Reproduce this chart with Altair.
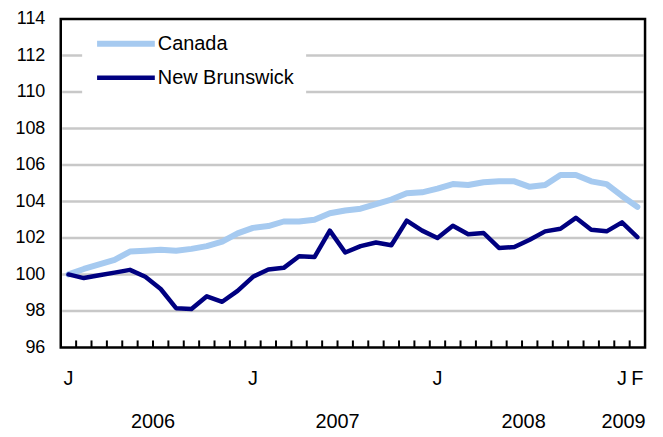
import altair as alt
import pandas as pd

# ---- data ----
month_index = list(range(38))  # Jan 2006 .. Feb 2009
canada = [100.0, 100.3, 100.55, 100.8, 101.25, 101.3, 101.35, 101.3, 101.4, 101.55,
          101.8, 102.25, 102.55, 102.65, 102.9, 102.9, 103.0, 103.35, 103.5, 103.6,
          103.85, 104.1, 104.45, 104.5, 104.7, 104.95, 104.9, 105.05, 105.1, 105.1,
          104.8, 104.9, 105.45, 105.45, 105.1, 104.95, 104.3, 103.7]
new_brunswick = [100.0, 99.8, 99.95, 100.1, 100.25, 99.87, 99.2, 98.15, 98.1, 98.8,
                 98.5, 99.1, 99.87, 100.27, 100.36, 101.0, 100.95, 102.4, 101.2, 101.55,
                 101.75, 101.6, 102.95, 102.4, 102.0, 102.67, 102.2, 102.27, 101.45, 101.5,
                 101.9, 102.36, 102.5, 103.1, 102.45, 102.36, 102.85, 102.04]
series_names = ["Canada", "New Brunswick"]
series_colors = ["#a6caf0", "#000080"]
series_widths = [6, 4.5]

y_ticks = [96, 98, 100, 102, 104, 106, 108, 110, 112, 114]
grid_values = [98, 100, 102, 104, 106, 108, 110, 112]
tick_boundaries = [i + 0.5 for i in range(37)]
month_label_pos = [0, 12, 24, 36, 37]
month_labels = ["J", "J", "J", "J", "F"]
year_label_pos = [5.5, 17.5, 29.6, 36.1]
year_labels = ["2006", "2007", "2008", "2009"]

W, H = 587, 330
FONT = "Liberation Sans"

x_scale = alt.Scale(domain=[-0.5, 37.5], nice=False, zero=False)
y_scale = alt.Scale(domain=[96, 114], nice=False, zero=False)

y_axis = alt.Axis(
    values=y_ticks, title=None, grid=False, domain=False, ticks=False,
    labelPadding=16, labelFontSize=18, labelFont=FONT, labelColor="black")

lines_df = pd.DataFrame({
    "m": month_index + month_index,
    "v": canada + new_brunswick,
    "series": [series_names[0]] * len(canada) + [series_names[1]] * len(new_brunswick),
})

legend = alt.Legend(
    title=None, orient="none", legendX=21.5, legendY=3,
    symbolType="stroke", symbolSize=3364, clipHeight=20,
    labelFontSize=20, labelFont=FONT, labelColor="black",
    fillColor="white", padding=12, rowPadding=14, labelOffset=0,
)

grid = alt.Chart(pd.DataFrame({"g": grid_values})).mark_rule(
    color="#c8c8c8", strokeWidth=2.5
).encode(
    y=alt.Y("g:Q", scale=y_scale, axis=y_axis),
    x=alt.value(1.5), x2=alt.value(W - 1.5),
)

lines = alt.Chart(lines_df).mark_line(strokeCap="round", strokeJoin="round").encode(
    x=alt.X("m:Q", scale=x_scale, axis=None),
    y=alt.Y("v:Q", scale=y_scale, axis=y_axis),
    color=alt.Color("series:N", scale=alt.Scale(domain=series_names, range=series_colors), legend=legend),
    strokeWidth=alt.StrokeWidth("series:N", scale=alt.Scale(domain=series_names, range=series_widths), legend=legend),
)

ticks = alt.Chart(pd.DataFrame({"b": tick_boundaries})).mark_rule(
    color="black", strokeWidth=2
).encode(
    x=alt.X("b:Q", scale=x_scale, axis=None),
    y=alt.value(H), y2=alt.value(H - 7),
)

frame = alt.Chart(pd.DataFrame({"f": [0]})).mark_rect(
    filled=False, stroke="black", strokeWidth=2.5
).encode(x=alt.value(0), x2=alt.value(W), y=alt.value(0), y2=alt.value(H))

month_text = alt.Chart(pd.DataFrame({"p": month_label_pos, "t": month_labels})).mark_text(
    fontSize=20, font=FONT, color="black", baseline="middle", align="center"
).encode(x=alt.X("p:Q", scale=x_scale, axis=None), y=alt.value(H + 32), text="t:N")

year_text = alt.Chart(pd.DataFrame({"p": year_label_pos, "t": year_labels})).mark_text(
    fontSize=20, font=FONT, color="black", baseline="middle", align="center"
).encode(x=alt.X("p:Q", scale=x_scale, axis=None), y=alt.value(H + 75), text="t:N")

chart = alt.layer(grid, lines, ticks, frame, month_text, year_text).properties(
    width=W, height=H,
    autosize=alt.AutoSizeParams(type="none"),
    padding={"left": 53, "top": 10, "right": 10, "bottom": 85},
).configure_view(strokeWidth=0)

chart.save("out.html", embed_options={"renderer": "svg", "actions": False})
